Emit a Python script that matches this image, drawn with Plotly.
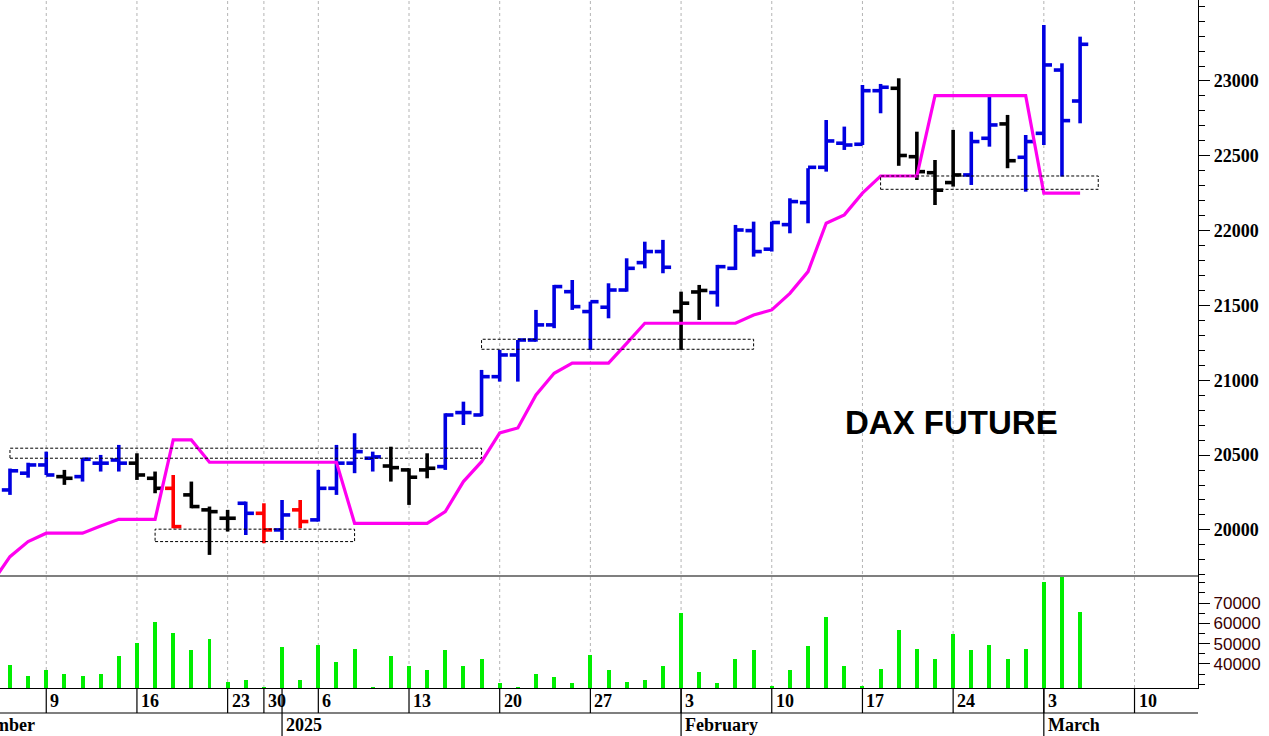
import plotly.graph_objects as go

# ---------------- data ----------------
days = [
    "2024-12-04", "2024-12-05", "2024-12-06",
    "2024-12-09", "2024-12-10", "2024-12-11", "2024-12-12", "2024-12-13",
    "2024-12-16", "2024-12-17", "2024-12-18", "2024-12-19", "2024-12-20",
    "2024-12-23", "2024-12-27", "2024-12-30", "2025-01-02", "2025-01-03",
    "2025-01-06", "2025-01-07", "2025-01-08", "2025-01-09", "2025-01-10",
    "2025-01-13", "2025-01-14", "2025-01-15", "2025-01-16", "2025-01-17",
    "2025-01-20", "2025-01-21", "2025-01-22", "2025-01-23", "2025-01-24",
    "2025-01-27", "2025-01-28", "2025-01-29", "2025-01-30", "2025-01-31",
    "2025-02-03", "2025-02-04", "2025-02-05", "2025-02-06", "2025-02-07",
    "2025-02-10", "2025-02-11", "2025-02-12", "2025-02-13", "2025-02-14",
    "2025-02-17", "2025-02-18", "2025-02-19", "2025-02-20", "2025-02-21",
    "2025-02-24", "2025-02-25", "2025-02-26", "2025-02-27", "2025-02-28",
    "2025-03-03", "2025-03-04", "2025-03-05", "2025-03-06", "2025-03-07",
    "2025-03-10",
]
bar_days = days[1:61]

opens = [20267, 20379, 20434, 20356, 20356, 20446, 20467, 20446, 20345, 20278,
         20234, 20134, 20078, 20178, 20111, 20000, 20134, 20067, 20278, 20446,
         20479, 20427, 20401, 20401, 20423, 20784, 20768, 21024, 21169, 21269,
         21370, 21592, 21459, 21488, 21603, 21786, 21860, 21459, 21590, 21586,
         21748, 22000, 21876, 22040, 22187, 22423, 22584, 22577, 22935, 22951,
         22494, 22387, 22321, 22372, 22617, 22713, 22490, 22650, 23073, 22866]
highs = [20410, 20449, 20523, 20401, 20479, 20501, 20568, 20512, 20390, 20367,
         20323, 20156, 20134, 20189, 20178, 20200, 20200, 20401, 20568, 20646,
         20523, 20556, 20412, 20512, 20779, 20857, 21069, 21203, 21269, 21470,
         21637, 21670, 21525, 21648, 21815, 21926, 21938, 21592, 21637, 21771,
         22038, 22060, 22060, 22216, 22417, 22739, 22695, 22973, 22980, 23018,
         22661, 22472, 22673, 22661, 22906, 22773, 22639, 23374, 23118, 23296]
lows = [20234, 20349, 20367, 20301, 20323, 20390, 20390, 20334, 20245, 20011,
        20145, 19833, 19989, 19966, 19911, 19933, 20011, 20056, 20234, 20379,
        20390, 20323, 20167, 20345, 20401, 20701, 20760, 20991, 20991, 21258,
        21348, 21470, 21203, 21414, 21592, 21748, 21715, 21203, 21403, 21492,
        21737, 21826, 21860, 21982, 22049, 22394, 22539, 22572, 22784, 22433,
        22338, 22171, 22294, 22305, 22561, 22417, 22260, 22572, 22361, 22717]
closes = [20395, 20434, 20367, 20345, 20472, 20446, 20446, 20367, 20278, 20022,
          20156, 20122, 20078, 20111, 20000, 20100, 20056, 20278, 20446, 20523,
          20488, 20416, 20352, 20412, 20768, 20784, 21024, 21169, 21269, 21370,
          21626, 21492, 21525, 21603, 21748, 21860, 21755, 21515, 21600, 21759,
          22004, 21860, 22054, 22194, 22423, 22599, 22572, 22935, 22958, 22502,
          22394, 22270, 22372, 22595, 22706, 22467, 22595, 23107, 22735, 23245]
# trend state per bar: u = up (blue), n = neutral (black), d = down (red)
trend = ["u", "u", "u", "n", "u", "u", "u", "n", "n", "d",
         "n", "n", "n", "u", "d", "u", "d", "u", "u", "u",
         "u", "n", "n", "n", "u", "u", "u", "u", "u", "u",
         "u", "u", "u", "u", "u", "u", "u", "n", "n", "u",
         "u", "u", "u", "u", "u", "u", "u", "u", "u", "n",
         "n", "n", "n", "u", "u", "n", "u", "u", "u", "u"]
volumes = [39500, 34100, 37000, 34900, 34100, 34900, 43900, 50500, 60800, 55400,
           46900, 52300, 31100, 32100, 28500, 48200, 32100, 49300, 41100, 47400,
           28500, 43900, 39000, 37000, 46900, 39000, 42500, 30500, 28500, 34900,
           33500, 30500, 44400, 37000, 31300, 32100, 39000, 64900, 36200, 30500,
           42300, 46900, 29200, 37000, 48800, 63000, 39000, 29200, 37500, 56700,
           47200, 42300, 54600, 46900, 49300, 42300, 47200, 80200, 83000, 65700]
# stop line, starting 2024-12-04
stop_line = [19646,
             19821, 19922, 19978, 19978, 19978, 20026, 20071, 20071, 20071, 20601,
             20601, 20452, 20452, 20452, 20452, 20452, 20452, 20452, 20452, 20044,
             20044, 20044, 20044, 20044, 20122, 20323, 20456, 20648, 20681, 20902,
             21047, 21114, 21114, 21114, 21247, 21381, 21381, 21381, 21381, 21381,
             21381, 21436, 21470, 21581, 21726, 22049, 22105, 22250, 22365, 22365,
             22365, 22902, 22902, 22902, 22902, 22902, 22902, 22250, 22250, 22250]
# dotted zones: start, end, low, high
zone_start = ["2024-12-05", "2024-12-17", "2025-01-17", "2025-02-18"]
zone_end = ["2025-01-17", "2025-01-08", "2025-02-07", "2025-03-06"]
zone_low = [20479, 19922, 21207, 22276]
zone_high = [20546, 20005, 21274, 22365]

week_ticks = ["2024-12-09", "2024-12-16", "2024-12-23", "2024-12-30", "2025-01-06",
              "2025-01-13", "2025-01-20", "2025-01-27", "2025-02-03", "2025-02-10",
              "2025-02-17", "2025-02-24", "2025-03-03", "2025-03-10"]
week_labels = ["9", "16", "23", "30", "6", "13", "20", "27", "3", "10", "17", "24", "3", "10"]
month_ticks = ["2025-01-02", "2025-02-03", "2025-03-03"]
month_labels = ["2025", "February", "March"]
price_ticks = [20000, 20500, 21000, 21500, 22000, 22500, 23000]
volume_ticks = [40000, 50000, 60000, 70000]

# ---------------- figure ----------------
def pos(d):
    return days.index(d)

BLUE = "#0000e0"
BLACK = "#000000"
RED = "#ff0000"
colors = {"u": BLUE, "n": BLACK, "d": RED}
W = 0.45

fig = go.Figure()

for code in ["u", "n", "d"]:
    xs, ys = [], []
    for k, d in enumerate(bar_days):
        if trend[k] != code:
            continue
        x = pos(d)
        xs += [x, x, None, x - W, x, None, x, x + W, None]
        ys += [lows[k], highs[k], None, opens[k], opens[k], None, closes[k], closes[k], None]
    fig.add_trace(go.Scatter(x=xs, y=ys, mode="lines",
                             line=dict(color=colors[code], width=3.6),
                             hoverinfo="skip", showlegend=False,
                             xaxis="x", yaxis="y"))

fig.add_trace(go.Scatter(x=[pos(d) for d in days[:61]], y=stop_line, mode="lines",
                         line=dict(color="#ff00f0", width=3.2),
                         showlegend=False, xaxis="x", yaxis="y"))

fig.add_trace(go.Bar(x=[pos(d) for d in bar_days], y=volumes, width=0.22,
                     marker=dict(color="#00ee00", line=dict(width=0)),
                     showlegend=False, xaxis="x", yaxis="y2"))

SPLIT = 112 / 688
ROW1 = -25 / 688
ROW2 = -48 / 688

shapes = []
# vertical dashed grid lines
for d in week_ticks:
    shapes.append(dict(type="line", xref="x", yref="paper", x0=pos(d), x1=pos(d),
                       y0=0, y1=1, line=dict(color="#b4b4b4", width=1, dash="3px,3px"),
                       layer="below"))
# dotted zones
for s, e, lo, hi in zip(zone_start, zone_end, zone_low, zone_high):
    shapes.append(dict(type="rect", xref="x", yref="y", x0=pos(s), x1=pos(e),
                       y0=lo, y1=hi, line=dict(color="black", width=1, dash="3px,2px"),
                       fillcolor="rgba(0,0,0,0)", layer="above"))
# panel separator
shapes.append(dict(type="line", xref="paper", yref="paper", x0=0, x1=1, y0=SPLIT, y1=SPLIT,
                   line=dict(color="black", width=1.2)))
# date row bottom line
shapes.append(dict(type="line", xref="paper", yref="paper", x0=0, x1=1, y0=ROW1, y1=ROW1,
                   line=dict(color="black", width=1.2)))
# date separators
for d in week_ticks:
    shapes.append(dict(type="line", xref="x", yref="paper", x0=pos(d), x1=pos(d),
                       y0=0, y1=ROW1, line=dict(color="black", width=1.2)))
for d in month_ticks:
    shapes.append(dict(type="line", xref="x", yref="paper", x0=pos(d), x1=pos(d),
                       y0=0, y1=ROW2, line=dict(color="black", width=1.2)))
fig.update_layout(shapes=shapes)

LABEL_FONT = dict(family="Liberation Serif", size=18, color="black", weight="bold")
annotations = []
for d, t in zip(week_ticks, week_labels):
    annotations.append(dict(x=pos(d), y=0, xref="x", yref="paper", text=t,
                            showarrow=False, xanchor="left", yanchor="middle",
                            xshift=2, yshift=-13, font=LABEL_FONT))
for d, t in zip(month_ticks, month_labels):
    annotations.append(dict(x=pos(d), y=0, xref="x", yref="paper", text=t,
                            showarrow=False, xanchor="left", yanchor="middle",
                            xshift=2, yshift=-37, font=LABEL_FONT))
annotations.append(dict(x=0, y=0, xref="paper", yref="paper", text="December",
                        showarrow=False, xanchor="left", yanchor="middle",
                        xshift=-45, yshift=-37, font=LABEL_FONT))
annotations.append(dict(x=pos("2025-02-24") - 0.1, y=20721, xref="x", yref="y",
                        text="DAX FUTURE", showarrow=False, xanchor="center",
                        yanchor="middle",
                        font=dict(family="Liberation Sans", size=33, color="black",
                                  weight="bold")))
fig.update_layout(annotations=annotations)

fig.update_layout(
    width=1269, height=736,
    margin=dict(l=0, r=71, t=0, b=48),
    paper_bgcolor="white", plot_bgcolor="white",
    bargap=0,
    xaxis=dict(range=[0.45, 66.5], showticklabels=False, showgrid=False,
               zeroline=False, showline=True, linecolor="black", linewidth=1,
               ticks="", anchor="y2", domain=[0, 1]),
    yaxis=dict(domain=[SPLIT, 1], range=[19692, 23541], side="right", anchor="x",
               tickmode="array", tickvals=price_ticks, tickformat="d",
               ticks="outside", ticklen=11,
               tickwidth=1, tickcolor="black", showline=True, linecolor="black",
               linewidth=1.2, showgrid=False, zeroline=False,
               tickfont=dict(family="Liberation Serif", size=18, color="black",
                             weight="bold"),
               minor=dict(dtick=100, tick0=0, ticks="outside", ticklen=6,
                          tickcolor="black", showgrid=False)),
    yaxis2=dict(domain=[0, SPLIT], range=[28190, 83281], side="right", anchor="x",
                tickmode="array", tickvals=volume_ticks, tickformat="d",
                ticks="outside", ticklen=11,
                tickwidth=1, tickcolor="black", showline=True, linecolor="black",
                linewidth=1.2, showgrid=False, zeroline=False,
                tickfont=dict(family="Liberation Sans", size=17, color="#3a0000"),
                minor=dict(dtick=5000, tick0=0, ticks="outside", ticklen=6,
                           tickcolor="black", showgrid=False)),
)

fig.write_html("out.html", config={"displayModeBar": False},
               post_script="document.body.style.margin='0';document.body.style.overflow='hidden';")
